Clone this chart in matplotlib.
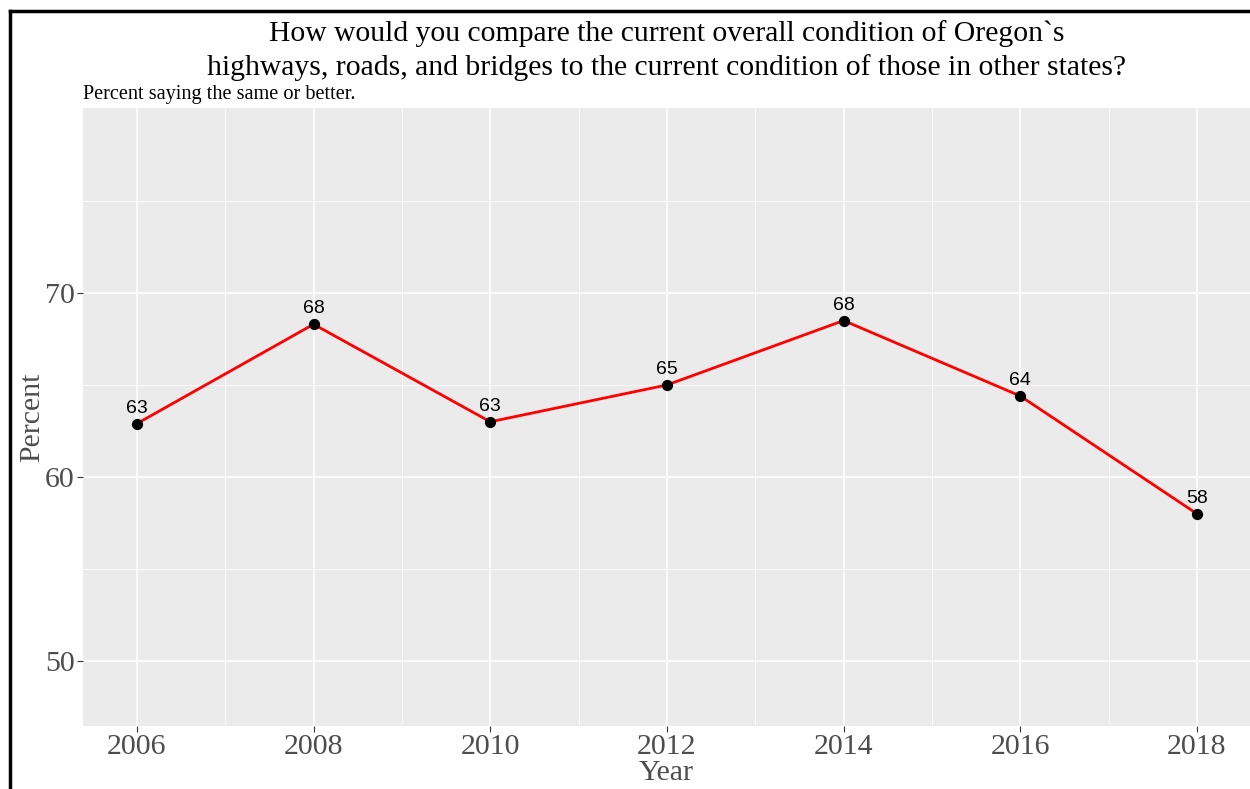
import matplotlib.pyplot as plt
from matplotlib.lines import Line2D

years = [2006, 2008, 2010, 2012, 2014, 2016, 2018]
pct = [62.9, 68.3, 63.0, 65.0, 68.5, 64.4, 58.0]
labels = ['63', '68', '63', '65', '68', '64', '58']

serif = ['Liberation Serif', 'DejaVu Serif']
sans = ['Liberation Sans', 'DejaVu Sans']

fig = plt.figure(figsize=(12.5, 7.89), dpi=100)
ax = fig.add_axes([83 / 1250, 1 - 726 / 789, 1167 / 1250, 618 / 789])
ax.set_facecolor('#EBEBEB')

ax.plot(years, pct, color='red', lw=2, zorder=3)
ax.scatter(years, pct, color='black', s=50, zorder=4)
for x, y, t in zip(years, pct, labels):
    ax.annotate(t, (x, y), xytext=(0, 5), textcoords='offset points',
                ha='center', va='bottom', fontsize=14, family=sans)

ax.set_xlim(2005.39, 2018.6)
ax.set_ylim(46.47, 80.05)
ax.set_xticks(years)
ax.set_xticks(range(2007, 2018, 2), minor=True)
ax.set_yticks([50, 60, 70])
ax.set_yticks([55, 65, 75], minor=True)
ax.grid(which='major', color='white', lw=1.1)
ax.grid(which='minor', color='white', lw=0.55)
ax.set_axisbelow(True)
for s in ax.spines.values():
    s.set_visible(False)
ax.tick_params(which='major', length=4, color='#333333', labelsize=21.5,
               labelcolor='#4D4D4D', pad=2)
ax.tick_params(which='minor', length=0)
for lab in ax.get_xticklabels() + ax.get_yticklabels():
    lab.set_family(serif)
ax.set_xlabel('Year', fontsize=21.5, color='#4D4D4D', family=serif, labelpad=0)
ax.set_ylabel('Percent', fontsize=21.5, color='#4D4D4D', family=serif, labelpad=0)

fig.text(667 / 1250, 1 - 34 / 789,
         "How would you compare the current overall condition of Oregon`s",
         ha='center', va='center', fontsize=21.3, family=serif)
fig.text(667 / 1250, 1 - 68 / 789,
         "highways, roads, and bridges to the current condition of those in other states?",
         ha='center', va='center', fontsize=21.3, family=serif)
fig.text(83 / 1250, 1 - 94 / 789, 'Percent saying the same or better.',
         ha='left', va='center', fontsize=14.6, family=serif)

# outer border (top and left edges visible)
fig.add_artist(Line2D([10 / 1250, 1], [1 - 11 / 789, 1 - 11 / 789],
                      transform=fig.transFigure, color='black', lw=2.5))
fig.add_artist(Line2D([10 / 1250, 10 / 1250], [0, 1 - 11 / 789],
                      transform=fig.transFigure, color='black', lw=2.5))

fig.savefig('out.png', dpi=100)
